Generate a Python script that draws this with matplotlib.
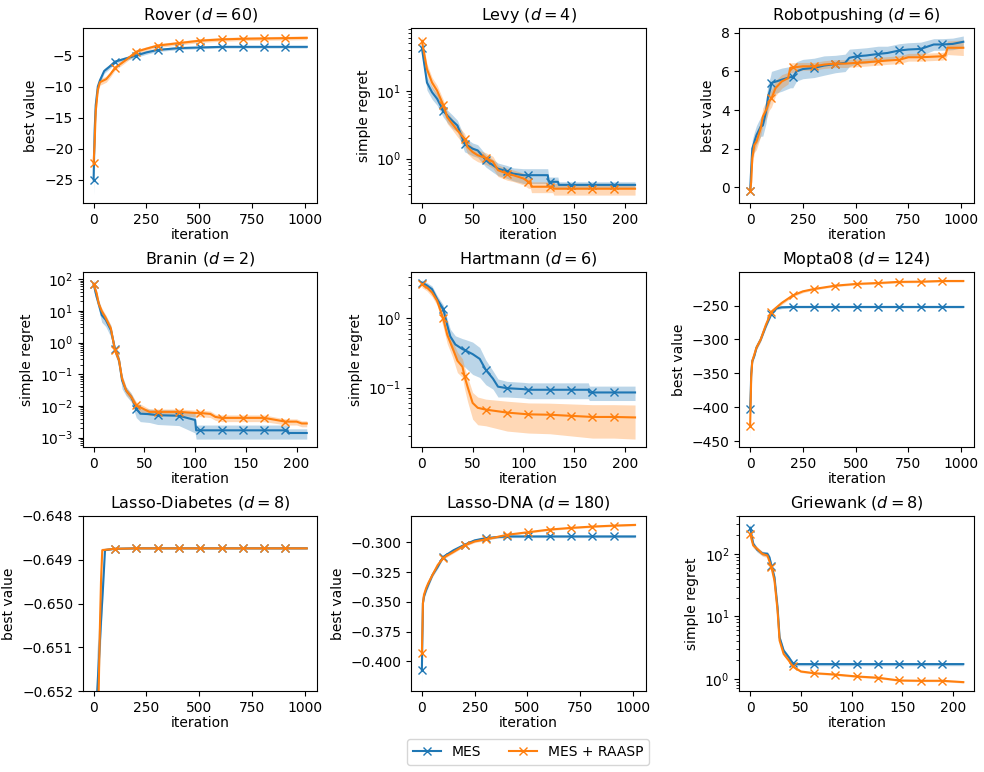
import numpy as np
import matplotlib.pyplot as plt
from matplotlib.ticker import ScalarFormatter

# ---- Rover (d=60) ----
rover_x_mes = [0, 5, 10, 20, 30, 50, 75, 101, 150, 202, 250, 303, 404, 505, 606, 707, 808, 909, 1010]
rover_mes = [-25.0, -17.0, -13.0, -10.0, -9.0, -7.5, -6.8, -6.0, -5.5, -5.0, -4.5, -4.1, -3.8, -3.7, -3.6, -3.6, -3.6, -3.6, -3.6]
rover_mes_sd = [2.5, 1.5, 1.0, 0.6, 0.5, 0.4, 0.35, 0.3, 0.3, 0.3, 0.3, 0.25, 0.25, 0.2, 0.2, 0.2, 0.2, 0.2, 0.2]
rover_x_raasp = [0, 5, 10, 20, 30, 60, 80, 101, 150, 202, 250, 303, 404, 505, 606, 707, 808, 909, 1010]
rover_raasp = [-22.3, -19.0, -14.0, -10.5, -9.3, -8.8, -8.0, -7.0, -5.8, -4.4, -3.9, -3.4, -3.0, -2.6, -2.4, -2.3, -2.25, -2.2, -2.15]
rover_raasp_sd = [1.0, 1.5, 1.0, 0.6, 0.5, 0.5, 0.45, 0.4, 0.35, 0.35, 0.3, 0.3, 0.3, 0.3, 0.3, 0.3, 0.3, 0.3, 0.3]

# ---- Levy (d=4) ----
levy_x_mes = [0, 5, 10, 15, 21, 25, 30, 35, 42, 50, 55, 63, 70, 75, 84, 90, 100, 105, 124, 125, 126, 134, 135, 147, 168, 189, 210]
levy_mes = [43, 13.2, 9.5, 7.6, 5.1, 4.3, 3.6, 3.07, 1.66, 1.4, 1.32, 0.95, 0.80, 0.71, 0.65, 0.60, 0.57, 0.57, 0.57,
            0.455, 0.455, 0.455, 0.41, 0.41, 0.41, 0.41, 0.41]
levy_mes_sd = [8, 3, 2, 1.5, 1.0, 0.9, 0.8, 0.6, 0.4, 0.3, 0.28, 0.2, 0.17, 0.15, 0.14, 0.13, 0.14, 0.14, 0.14,
               0.08, 0.08, 0.08, 0.045, 0.045, 0.045, 0.045, 0.045]
levy_x_raasp = [0, 5, 10, 15, 21, 25, 30, 35, 42, 45, 50, 55, 63, 70, 75, 84, 90, 100, 105, 107, 108, 126, 129, 130, 147, 168, 189, 210]
levy_raasp = [54, 20.8, 13.2, 10, 6.2, 4.07, 3.25, 2.6, 1.96, 1.48, 1.25, 1.12, 1.02, 0.9, 0.675, 0.6, 0.57, 0.51,
              0.455, 0.455, 0.385, 0.385, 0.385, 0.36, 0.36, 0.36, 0.36, 0.36]
levy_raasp_sd = [10, 4, 2.5, 2, 1.2, 0.8, 0.6, 0.5, 0.4, 0.3, 0.25, 0.22, 0.2, 0.18, 0.13, 0.12, 0.11, 0.1,
                 0.09, 0.09, 0.07, 0.07, 0.07, 0.07, 0.07, 0.07, 0.07, 0.07]

# ---- Robotpushing (d=6) ----
robot_x_mes = [0, 5, 10, 20, 30, 50, 60, 75, 85, 95, 101, 150, 190, 202, 220, 250, 303, 350, 404, 450, 470, 505,
               550, 606, 650, 707, 750, 808, 870, 909, 960, 1010]
robot_mes = [-0.2, 0.97, 2.0, 2.36, 2.7, 3.14, 3.2, 3.9, 4.7, 5.05, 5.4, 5.57, 5.7, 5.7, 6.0, 6.12, 6.18, 6.3, 6.38,
             6.44, 6.7, 6.78, 6.82, 6.9, 6.95, 7.08, 7.13, 7.16, 7.39, 7.39, 7.42, 7.53]
robot_mes_sd = [0.2, 0.4, 0.45, 0.5, 0.5, 0.5, 0.55, 0.6, 0.65, 0.65, 0.6, 0.6, 0.55, 0.55, 0.5, 0.5, 0.5, 0.5, 0.45,
                0.45, 0.45, 0.4, 0.4, 0.4, 0.35, 0.35, 0.35, 0.35, 0.3, 0.3, 0.3, 0.3]
robot_x_raasp = [0, 5, 10, 20, 30, 50, 60, 80, 90, 101, 120, 150, 180, 190, 202, 250, 303, 350, 404, 450, 505, 550,
                 606, 650, 707, 750, 808, 909, 925, 935, 1010]
robot_raasp = [-0.2, 0.28, 1.5, 2.2, 2.36, 3.05, 3.66, 4.1, 4.44, 4.6, 5.13, 5.48, 5.65, 6.18, 6.2, 6.26, 6.26, 6.35,
               6.4, 6.4, 6.44, 6.47, 6.52, 6.56, 6.6, 6.73, 6.73, 6.78, 6.82, 7.22, 7.22]
robot_raasp_sd = [0.2, 0.3, 0.35, 0.4, 0.4, 0.4, 0.45, 0.45, 0.45, 0.45, 0.4, 0.35, 0.3, 0.25, 0.25, 0.2, 0.2, 0.2,
                  0.2, 0.2, 0.2, 0.2, 0.2, 0.2, 0.2, 0.2, 0.2, 0.2, 0.2, 0.35, 0.4]

# ---- Branin (d=2) ----
branin_x_mes = [0, 3, 5, 8, 12, 17, 21, 25, 28, 32, 37, 42, 46, 55, 63, 84, 100, 101, 105, 126, 147, 168, 189, 191, 192, 210]
branin_mes = [70, 28, 17, 7.4, 5.2, 2.5, 0.63, 0.28, 0.065, 0.031, 0.0195, 0.0083, 0.0057, 0.0055, 0.0051, 0.0049,
              0.0036, 0.0017, 0.0017, 0.0017, 0.0017, 0.0017, 0.0017, 0.0017, 0.0014, 0.0014]
branin_mes_sd = [25, 10, 6, 3, 2, 1, 0.2, 0.1, 0.03, 0.01, 0.006, 0.004, 0.0025, 0.0025, 0.0025, 0.0025,
                 0.0022, 0.0008, 0.0008, 0.0008, 0.0008, 0.0008, 0.0008, 0.0008, 0.0005, 0.0005]
branin_x_raasp = [0, 3, 5, 8, 12, 17, 21, 25, 28, 32, 37, 42, 50, 55, 63, 84, 100, 105, 115, 120, 126, 147, 168,
                  180, 189, 200, 205, 210]
branin_raasp = [70, 36, 17, 10, 5.9, 2.8, 0.58, 0.28, 0.074, 0.031, 0.0195, 0.0105, 0.0078, 0.0065, 0.0065, 0.0065,
                0.006, 0.006, 0.0056, 0.0045, 0.0042, 0.0042, 0.0042, 0.0036, 0.0032, 0.0032, 0.0028, 0.0028]
branin_raasp_sd = [20, 8, 4, 2.5, 1.5, 0.7, 0.15, 0.07, 0.02, 0.008, 0.005, 0.003, 0.002, 0.0015, 0.0015, 0.0015,
                   0.0014, 0.0014, 0.0013, 0.001, 0.001, 0.001, 0.001, 0.0008, 0.0007, 0.0007, 0.0006, 0.0006]

# ---- Hartmann (d=6) ----
hart_x_mes = [0, 5, 10, 15, 21, 25, 28, 33, 40, 42, 50, 57, 63, 70, 75, 84, 100, 105, 126, 147, 164, 165, 168, 189, 210]
hart_mes = [3.3, 3.0, 2.65, 1.9, 1.38, 0.8, 0.55, 0.42, 0.36, 0.35, 0.305, 0.26, 0.18, 0.135, 0.103, 0.098, 0.095,
            0.093, 0.093, 0.093, 0.093, 0.085, 0.085, 0.085, 0.085]
hart_mes_sd = [0.3, 0.3, 0.3, 0.25, 0.2, 0.18, 0.15, 0.14, 0.15, 0.15, 0.15, 0.12, 0.07, 0.04, 0.03, 0.025, 0.024,
               0.024, 0.024, 0.024, 0.024, 0.02, 0.02, 0.02, 0.02]
hart_x_raasp = [0, 5, 10, 15, 21, 25, 30, 35, 40, 42, 45, 50, 55, 63, 84, 105, 126, 147, 168, 189, 210]
hart_raasp = [3.1, 2.8, 2.37, 1.8, 1.0, 0.58, 0.38, 0.245, 0.2, 0.146, 0.103, 0.06, 0.051, 0.048, 0.0435, 0.041,
              0.0405, 0.039, 0.0376, 0.0376, 0.037]
hart_raasp_sd = [0.3, 0.3, 0.3, 0.25, 0.25, 0.15, 0.1, 0.08, 0.06, 0.05, 0.04, 0.025, 0.022, 0.02, 0.02, 0.019,
                 0.019, 0.019, 0.019, 0.019, 0.019]

# ---- Mopta08 (d=124) ----
mopta_x_mes = [0, 3, 5, 10, 20, 30, 50, 75, 101, 125, 150, 202, 303, 404, 505, 606, 707, 808, 909, 1010]
mopta_mes = [-403, -376, -351, -332, -324, -312, -300, -280, -262, -254, -252.5, -252, -252, -252, -252, -252, -252,
             -252, -252, -252]
mopta_mes_sd = [5, 5, 4, 3, 3, 3, 3, 3, 2.5, 2, 2, 1.5, 1.5, 1.5, 1.5, 1.5, 1.5, 1.5, 1.5, 1.5]
mopta_x_raasp = [0, 3, 5, 10, 20, 30, 50, 75, 101, 150, 202, 250, 303, 404, 505, 606, 707, 808, 909, 1010]
mopta_raasp = [-427, -386, -356, -332, -322, -312, -300, -278, -259, -246, -235, -229, -225.5, -220.6, -218, -216.7,
               -215, -214.7, -213.7, -213.7]
mopta_raasp_sd = [20, 8, 5, 3, 3, 3, 3, 3, 3, 2.5, 2, 2, 1.5, 1.5, 1.5, 1.5, 1.5, 1.5, 1.5, 1.5]

# ---- Lasso-Diabetes (d=8) ----
diab_x_mes = [0, 10, 17, 25, 35, 45, 54, 101, 202, 303, 404, 505, 606, 707, 808, 909, 1010]
diab_mes = [-0.70, -0.66, -0.652, -0.6513, -0.6504, -0.6496, -0.64878, -0.64875, -0.64874, -0.64874, -0.64874,
            -0.64874, -0.64874, -0.64874, -0.64874, -0.64874, -0.64874]
diab_mes_sd = [0.01, 0.002, 0.0008, 0.0007, 0.0006, 0.0004, 0.00003, 0.00002, 0.00002, 0.00002, 0.00002, 0.00002,
               0.00002, 0.00002, 0.00002, 0.00002, 0.00002]
diab_x_raasp = [0, 10, 24, 30, 35, 41, 101, 202, 303, 404, 505, 606, 707, 808, 909, 1010]
diab_raasp = [-0.70, -0.67, -0.652, -0.6505, -0.6495, -0.64878, -0.64875, -0.64874, -0.64874, -0.64874, -0.64874,
              -0.64874, -0.64874, -0.64874, -0.64874, -0.64874]
diab_raasp_sd = [0.01, 0.002, 0.0005, 0.0004, 0.0003, 0.00003, 0.00002, 0.00002, 0.00002, 0.00002, 0.00002, 0.00002,
                 0.00002, 0.00002, 0.00002, 0.00002]

# ---- Lasso-DNA (d=180) ----
dna_x_mes = [0, 3, 5, 10, 20, 30, 50, 75, 101, 150, 202, 250, 303, 350, 404, 505, 606, 707, 808, 909, 1010]
dna_mes = [-0.4072, -0.373, -0.351, -0.3454, -0.340, -0.3357, -0.3274, -0.3205, -0.3122, -0.3066, -0.302, -0.2983,
           -0.2964, -0.2956, -0.295, -0.295, -0.295, -0.295, -0.295, -0.295, -0.295]
dna_mes_sd = [0.011, 0.006, 0.003, 0.002, 0.002, 0.002, 0.0015, 0.0015, 0.0012, 0.001, 0.001, 0.001, 0.001, 0.001,
              0.001, 0.001, 0.001, 0.001, 0.001, 0.001, 0.001]
dna_x_raasp = [0, 3, 5, 10, 20, 30, 50, 75, 101, 150, 202, 250, 303, 404, 505, 606, 707, 808, 909, 1010]
dna_raasp = [-0.3933, -0.370, -0.351, -0.344, -0.3385, -0.3343, -0.3274, -0.319, -0.313, -0.308, -0.3025, -0.2992,
             -0.2975, -0.2936, -0.2914, -0.2892, -0.2878, -0.2867, -0.2859, -0.2853]
dna_raasp_sd = [0.005, 0.004, 0.003, 0.002, 0.002, 0.002, 0.0015, 0.0015, 0.0012, 0.001, 0.001, 0.001, 0.001,
                0.0008, 0.0008, 0.0008, 0.0008, 0.0008, 0.0008, 0.0008]

# ---- Griewank (d=8) ----
grie_x_mes = [0, 3, 7, 12, 17, 19, 21, 24, 27, 29, 33, 38, 42, 45, 63, 84, 105, 126, 147, 168, 189, 210]
grie_mes = [261, 145, 116, 102, 100, 88, 65, 42, 14, 4.6, 2.84, 2.22, 1.78, 1.72, 1.72, 1.72, 1.72, 1.72, 1.72,
            1.72, 1.72, 1.72]
grie_mes_sd = [40, 15, 10, 8, 8, 8, 6, 4, 1.5, 0.4, 0.2, 0.15, 0.12, 0.1, 0.1, 0.1, 0.1, 0.1, 0.1, 0.1, 0.1, 0.1]
grie_x_raasp = [0, 3, 7, 12, 17, 21, 24, 27, 29, 33, 38, 42, 50, 63, 84, 105, 126, 147, 168, 189, 210]
grie_raasp = [209, 136, 120, 100, 94, 61, 37, 12.4, 4.1, 2.5, 1.97, 1.58, 1.31, 1.23, 1.17, 1.09, 1.04, 0.94, 0.93,
              0.93, 0.885]
grie_raasp_sd = [30, 12, 10, 8, 7, 5, 3, 1, 0.3, 0.15, 0.1, 0.08, 0.05, 0.04, 0.04, 0.04, 0.04, 0.03, 0.03, 0.03, 0.03]

labels = ["MES", "MES + RAASP"]
colors = ["tab:blue", "tab:orange"]


def draw_panel(ax, n_iter, runs, title, ylabel, log=False):
    marks = set(range(0, n_iter, n_iter // 10))
    for (x, y, sd), color, label in zip(runs, colors, labels):
        x, y, sd = np.asarray(x), np.asarray(y), np.asarray(sd)
        ax.fill_between(x, y - sd, y + sd, color=color, alpha=0.3, linewidth=0)
        idx = [i for i, v in enumerate(x) if v in marks]
        ax.plot(x, y, color=color, marker="x", markevery=idx, label=label)
    if log:
        ax.set_yscale("log")
    ax.set_title(title, fontsize=11.5)
    ax.set_xlabel("iteration", labelpad=1)
    ax.set_ylabel(ylabel)


fig, axes = plt.subplots(3, 3, figsize=(9.84, 7.72), dpi=100)
fig.subplots_adjust(left=0.0843, right=0.9898, top=0.9637, bottom=0.1049, wspace=0.40, hspace=0.394)

draw_panel(axes[0, 0], 1010, [(rover_x_mes, rover_mes, rover_mes_sd), (rover_x_raasp, rover_raasp, rover_raasp_sd)],
           "Rover ($d = 60$)", "best value")
draw_panel(axes[0, 1], 210, [(levy_x_mes, levy_mes, levy_mes_sd), (levy_x_raasp, levy_raasp, levy_raasp_sd)],
           "Levy ($d = 4$)", "simple regret", log=True)
draw_panel(axes[0, 2], 1010, [(robot_x_mes, robot_mes, robot_mes_sd), (robot_x_raasp, robot_raasp, robot_raasp_sd)],
           "Robotpushing ($d = 6$)", "best value")
draw_panel(axes[1, 0], 210, [(branin_x_mes, branin_mes, branin_mes_sd),
                             (branin_x_raasp, branin_raasp, branin_raasp_sd)],
           "Branin ($d = 2$)", "simple regret", log=True)
draw_panel(axes[1, 1], 210, [(hart_x_mes, hart_mes, hart_mes_sd), (hart_x_raasp, hart_raasp, hart_raasp_sd)],
           "Hartmann ($d = 6$)", "simple regret", log=True)
draw_panel(axes[1, 2], 1010, [(mopta_x_mes, mopta_mes, mopta_mes_sd), (mopta_x_raasp, mopta_raasp, mopta_raasp_sd)],
           "Mopta08 ($d = 124$)", "best value")
draw_panel(axes[2, 0], 1010, [(diab_x_mes, diab_mes, diab_mes_sd), (diab_x_raasp, diab_raasp, diab_raasp_sd)],
           "Lasso-Diabetes ($d = 8$)", "best value")
draw_panel(axes[2, 1], 1010, [(dna_x_mes, dna_mes, dna_mes_sd), (dna_x_raasp, dna_raasp, dna_raasp_sd)],
           "Lasso-DNA ($d = 180$)", "best value")
draw_panel(axes[2, 2], 210, [(grie_x_mes, grie_mes, grie_mes_sd), (grie_x_raasp, grie_raasp, grie_raasp_sd)],
           "Griewank ($d = 8$)", "simple regret", log=True)

ax = axes[2, 0]
ax.set_ylim(-0.652, -0.648)
ax.set_yticks([-0.652, -0.651, -0.650, -0.649, -0.648])
ax.yaxis.set_major_formatter(ScalarFormatter(useOffset=False))

for ax in axes.flat:
    if ax.get_xlim()[1] > 500:
        ax.set_xticks([0, 250, 500, 750, 1000])
    else:
        ax.set_xticks([0, 50, 100, 150, 200])

handles, labs = axes[0, 0].get_legend_handles_labels()
fig.legend(handles, labs, loc="center", ncol=2, bbox_to_anchor=(528 / 984, 20 / 772))

fig.savefig("out.png")
